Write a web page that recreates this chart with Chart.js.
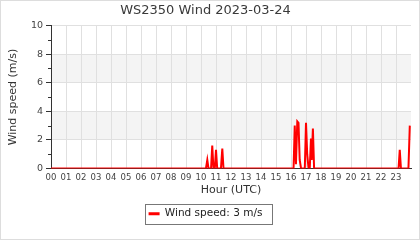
<!DOCTYPE html>
<html>
<head>
<meta charset="utf-8">
<script src="https://cdn.jsdelivr.net/npm/chart.js@4/dist/chart.umd.min.js"></script>
<style>
  html, body { margin: 0; padding: 0; background: #fff; }
  #wrap { width: 420px; height: 240px; }
</style>
</head>
<body>
<div id="wrap"><canvas id="windChart" width="420" height="240"></canvas></div>
<script>
// samples (hour of day, UTC) and wind speed (m/s)
const hours = [
    0, 10.33, 10.42, 10.5, 10.67, 10.75, 10.83, 10.92, 11.0, 11.08, 11.33, 11.42, 11.5,
    16.17, 16.25, 16.33, 16.42, 16.5, 16.58, 16.67, 16.92, 17.0, 17.08, 17.17,
    17.25, 17.33, 17.38, 17.46, 17.54,
    23.17, 23.25, 23.33, 23.83, 23.92
];
const speeds = [
    0, 0, 0.6, 0, 0, 1.6, 0, 0, 1.3, 0, 0, 1.4, 0,
    0, 3.0, 0.3, 3.3, 3.2, 0.6, 0, 0, 3.2, 1.0, 0,
    0, 2.1, 0.6, 2.8, 0,
    0, 1.3, 0, 0, 3.0
];
const hourTicks = ['00','01','02','03','04','05','06','07','08','09','10','11',
                   '12','13','14','15','16','17','18','19','20','21','22','23'];
const bands = [[2, 4], [6, 8]];

const seriesLabel = 'Wind speed';
const current = speeds[speeds.length - 1];

const extras = {
    id: 'extras',
    beforeDraw(chart) {
        const {ctx, chartArea} = chart;
        const y = chart.scales.y;
        ctx.save();
        ctx.fillStyle = '#fff';
        ctx.fillRect(0, 0, chart.width, chart.height);
        ctx.fillStyle = '#f4f4f4';
        bands.forEach(([a, b]) => {
            const top = y.getPixelForValue(b);
            const bot = y.getPixelForValue(a);
            ctx.fillRect(chartArea.left, top, chartArea.right - chartArea.left, bot - top);
        });
        ctx.restore();
    },
    afterDraw(chart) {
        const {ctx, chartArea} = chart;
        const y = chart.scales.y;
        ctx.save();
        // minor ticks on the y axis
        ctx.strokeStyle = '#333';
        ctx.lineWidth = 1;
        for (let v = 1; v < 10; v += 2) {
            const py = Math.round(y.getPixelForValue(v)) + 0.5;
            ctx.beginPath();
            ctx.moveTo(chartArea.left - 3, py);
            ctx.lineTo(chartArea.left, py);
            ctx.stroke();
        }
        // frame round the legend
        const hb = chart.legend.legendHitBoxes[0];
        if (hb) {
            ctx.strokeStyle = '#777';
            ctx.strokeRect(Math.round(hb.left - 4) + 0.5, Math.round(hb.top - 5) + 0.5,
                           Math.round(hb.width + 13), Math.round(hb.height + 9));
        }
        // outer frame
        ctx.strokeStyle = '#ddd';
        ctx.strokeRect(0.5, 0.5, chart.width - 1, chart.height - 1);
        ctx.restore();
    }
};

const config = {
    type: 'line',
    data: {
        datasets: [
            {
                label: seriesLabel,
                data: hours.map((h, i) => ({x: h, y: speeds[i]})),
                borderColor: 'red',
                backgroundColor: 'red',
                borderWidth: 2,
                pointRadius: 0,
                tension: 0
            }
        ]
    },
    options: {
        responsive: false,
        animation: false,
        layout: { padding: { left: 0, right: 9, top: 0, bottom: 11 } },
        font: { family: 'DejaVu Sans' },
        plugins: {
            title: {
                display: true,
                text: 'WS2350 Wind 2023-03-24',
                color: '#3a3a3a',
                font: { family: 'DejaVu Sans', size: 13, weight: 'normal' },
                padding: { top: 3, bottom: 7 }
            },
            legend: {
                position: 'bottom',
                labels: {
                    color: '#222',
                    font: { family: 'DejaVu Sans', size: 10.5 },
                    boxWidth: 11,
                    boxHeight: 3,
                    padding: 8,
                    generateLabels: () => [{
                        text: `${seriesLabel}: ${current} m/s`,
                        fillStyle: 'red',
                        strokeStyle: 'red',
                        lineWidth: 0,
                        hidden: false,
                        datasetIndex: 0,
                        fontColor: '#222'
                    }]
                }
            },
            tooltip: { enabled: false }
        },
        scales: {
            x: {
                type: 'linear',
                min: 0,
                max: 24,
                afterBuildTicks: (scale) => {
                    scale.ticks = scale.ticks.filter(t => t.value < 24);
                },
                afterFit: (scale) => { scale.height = 32; },
                ticks: {
                    stepSize: 1,
                    autoSkip: false,
                    maxRotation: 0,
                    padding: 4,
                    color: '#444',
                    font: { family: 'DejaVu Sans', size: 8.5 },
                    callback: (v) => hourTicks[v]
                },
                grid: { color: '#e0e0e0', drawTicks: false },
                border: { color: '#333', width: 1 },
                title: {
                    display: true,
                    text: 'Hour (UTC)',
                    color: '#333',
                    font: { family: 'DejaVu Sans', size: 11 },
                    padding: { top: 0, bottom: 4 }
                }
            },
            y: {
                min: 0,
                max: 10,
                afterFit: (scale) => { scale.width = 51; },
                ticks: {
                    stepSize: 2,
                    padding: 3,
                    color: '#444',
                    font: { family: 'DejaVu Sans', size: 9.5 }
                },
                grid: { color: '#e0e0e0', tickColor: '#333', tickLength: 5 },
                border: { color: '#333', width: 1 },
                title: {
                    display: true,
                    text: 'Wind speed (m/s)',
                    color: '#333',
                    font: { family: 'DejaVu Sans', size: 11 },
                    padding: { top: 7, bottom: 0 }
                }
            }
        }
    },
    plugins: [extras]
};

const windChart = new Chart(document.getElementById('windChart'), config);
</script>
</body>
</html>
